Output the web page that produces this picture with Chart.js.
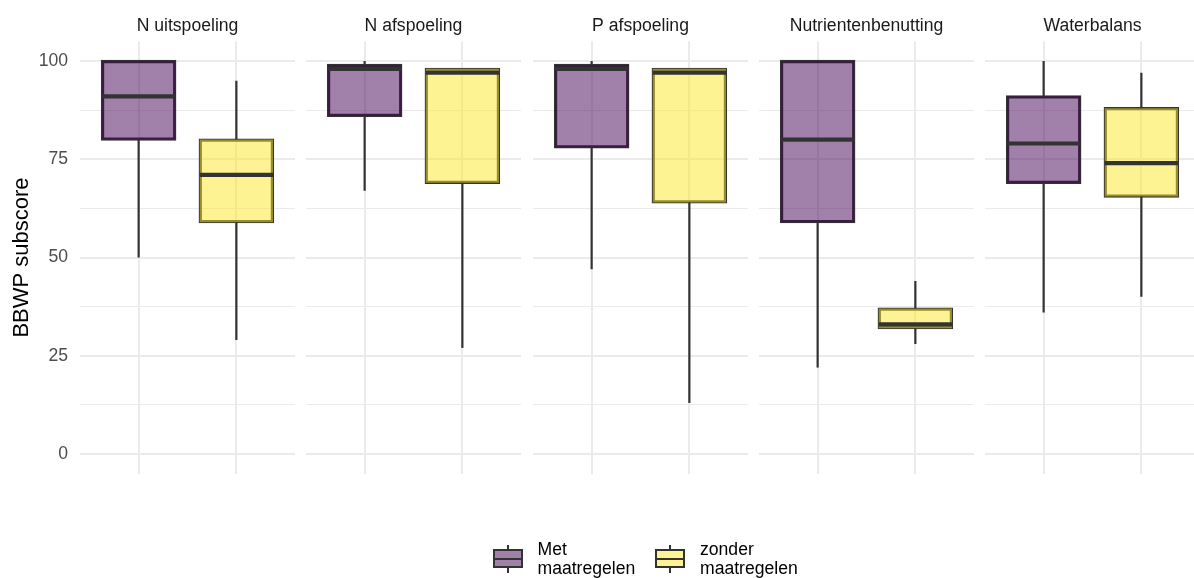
<!DOCTYPE html>
<html>
<head>
<meta charset="utf-8">
<title>BBWP subscore</title>
<script src="https://cdn.jsdelivr.net/npm/chart.js@4/dist/chart.umd.min.js"></script>
<style>
  html, body { margin: 0; padding: 0; background: #ffffff; overflow: hidden; }
  #wrap { position: relative; width: 1194px; height: 578px; overflow: hidden;
          font-family: "Liberation Sans", Arial, sans-serif; }
  #wrap canvas { position: absolute; top: 0; }
  .item { position: absolute; top: 540px; }
  .key { position: absolute; left: 0; top: 5px; width: 30px; height: 28px; }
  .key .box { position: absolute; left: 0; top: 4px; width: 30px; height: 19px;
              box-sizing: border-box; border: 2px solid #333333; }
  .key .med { position: absolute; left: 0; top: 12.5px; width: 30px; height: 2px; background: #333333; }
  .key .wt { position: absolute; left: 14px; top: 0; width: 2px; height: 4px; background: #333333; }
  .key .wb { position: absolute; left: 14px; top: 23px; width: 2px; height: 5px; background: #333333; }
  .label { position: absolute; left: 45px; top: 0; font-size: 17.6px; line-height: 19px;
           color: #000000; white-space: nowrap; }
</style>
</head>
<body>
<div id="wrap"></div>
<script>
// Facets and groups
const panels = ['N uitspoeling', 'N afspoeling', 'P afspoeling', 'Nutrientenbenutting', 'Waterbalans'];
const groups = ['Met maatregelen', 'zonder maatregelen'];
const groupLines = [['Met', 'maatregelen'], ['zonder', 'maatregelen']];

// Box statistics per facet, "Met maatregelen"
const metLow    = [50, 67, 47, 22, 36];
const metQ1     = [80, 86, 78, 59, 69];
const metMedian = [91, 98, 98, 80, 79];
const metQ3     = [100, 99, 99, 100, 91];
const metHigh   = [100, 100, 100, 100, 100];

// Box statistics per facet, "zonder maatregelen"
const zonderLow    = [29, 27, 13, 28, 40];
const zonderQ1     = [59, 69, 64, 32, 65.5];
const zonderMedian = [71, 97, 97, 33, 74];
const zonderQ3     = [80, 98, 98, 37, 88];
const zonderHigh   = [95, 98, 98, 44, 97];

// Labelled y ticks
const yTicks = [0, 25, 50, 75, 100];

const FONT = '"Liberation Sans", Arial, sans-serif';
const fills = ['rgba(68, 1, 84, 0.5)', 'rgba(253, 231, 37, 0.5)'];
const outline = '#333333';
const gridColor = '#ebebeb';

Chart.defaults.font.family = FONT;

// Whiskers and median lines, placed with the chart's own scales
const boxWhiskers = {
  id: 'boxWhiskers',
  afterDatasetsDraw(chart) {
    const { ctx } = chart;
    const y = chart.scales.y;
    chart.data.datasets.forEach((ds, i) => {
      const meta = chart.getDatasetMeta(i);
      meta.data.forEach((bar, j) => {
        const s = ds.summary[j];
        const x = bar.x;
        const half = bar.width / 2;
        ctx.save();
        ctx.strokeStyle = outline;
        ctx.lineCap = 'butt';
        ctx.lineWidth = 2.2;
        ctx.beginPath();
        if (s.high > s.q3) {
          ctx.moveTo(x, y.getPixelForValue(s.high));
          ctx.lineTo(x, y.getPixelForValue(s.q3));
        }
        if (s.low < s.q1) {
          ctx.moveTo(x, y.getPixelForValue(s.q1));
          ctx.lineTo(x, y.getPixelForValue(s.low));
        }
        ctx.stroke();
        ctx.lineWidth = 4.2;
        ctx.beginPath();
        const my = y.getPixelForValue(s.median);
        ctx.moveTo(x - half, my);
        ctx.lineTo(x + half, my);
        ctx.stroke();
        ctx.restore();
      });
    });
  }
};

function makeSeries(g, k) {
  const src = g === 0
    ? { low: metLow, q1: metQ1, median: metMedian, q3: metQ3, high: metHigh }
    : { low: zonderLow, q1: zonderQ1, median: zonderMedian, q3: zonderQ3, high: zonderHigh };
  return {
    label: groups[g],
    data: [{ x: g + 1, y: [src.q1[k], src.q3[k]] }],
    summary: [{ low: src.low[k], q1: src.q1[k], median: src.median[k], q3: src.q3[k], high: src.high[k] }],
    backgroundColor: fills[g],
    borderColor: outline,
    borderWidth: 1.1,
    borderSkipped: false,
    inflateAmount: 1.1
  };
}

const wrap = document.getElementById('wrap');
const panelStep = 226.3;
const panelWidth = 215;
const axisWidth = 80;

panels.forEach((name, k) => {
  const canvas = document.createElement('canvas');
  const first = k === 0;
  const left = first ? 0 : Math.round(axisWidth + panelStep * k);
  const width = first ? axisWidth + panelWidth : panelWidth;
  canvas.width = width;
  canvas.height = 578;
  canvas.style.left = left + 'px';
  canvas.style.width = width + 'px';
  canvas.style.height = '578px';
  wrap.appendChild(canvas);

  new Chart(canvas, {
    type: 'bar',
    data: { datasets: [makeSeries(0, k), makeSeries(1, k)] },
    plugins: [boxWhiskers],
    options: {
      responsive: false,
      animation: false,
      events: [],
      layout: { padding: 0 },
      datasets: { bar: { grouped: false, barPercentage: 0.75, categoryPercentage: 1 } },
      plugins: {
        legend: { display: false },
        tooltip: { enabled: false },
        title: {
          display: true,
          text: name,
          fullSize: false,
          color: '#1a1a1a',
          font: { size: 17.6, weight: 'normal', family: FONT, lineHeight: 1.2 },
          padding: { top: 16, bottom: 4.2 }
        }
      },
      scales: {
        x: {
          type: 'linear',
          offset: false,
          min: 0.4,
          max: 2.6,
          afterBuildTicks: (s) => { s.ticks = [{ value: 1 }, { value: 2 }]; },
          afterFit: (s) => { s.height = 104.3; },
          ticks: { display: false },
          border: { display: false },
          grid: { color: gridColor, lineWidth: 2, drawTicks: false, offset: false }
        },
        y: {
          min: -5,
          max: 105,
          afterFit: (s) => { s.width = first ? axisWidth : 0; },
          ticks: {
            display: first,
            stepSize: 12.5,
            includeBounds: false,
            autoSkip: false,
            padding: 12,
            color: '#4d4d4d',
            font: { size: 17.6, family: FONT },
            callback: (v) => (yTicks.includes(v) ? String(v) : '')
          },
          border: { display: false },
          grid: {
            color: gridColor,
            drawTicks: false,
            lineWidth: (c) => (c.tick && yTicks.includes(c.tick.value) ? 2 : 1)
          },
          title: {
            display: first,
            text: 'BBWP subscore',
            color: '#000000',
            font: { size: 22, family: FONT, lineHeight: 1.2 },
            padding: { top: 8.5, bottom: 0 }
          }
        }
      }
    }
  });
});

// Legend at the bottom
const legendLeft = [492.5, 655];
groups.forEach((g, i) => {
  const item = document.createElement('div');
  item.className = 'item';
  item.style.left = legendLeft[i] + 'px';
  const key = document.createElement('div');
  key.className = 'key';
  key.innerHTML = '<div class="wt"></div><div class="wb"></div>' +
    '<div class="box" style="background:' + fills[i] + '"></div><div class="med"></div>';
  const label = document.createElement('div');
  label.className = 'label';
  label.innerHTML = groupLines[i].join('<br>');
  item.appendChild(key);
  item.appendChild(label);
  wrap.appendChild(item);
});
</script>
</body>
</html>
